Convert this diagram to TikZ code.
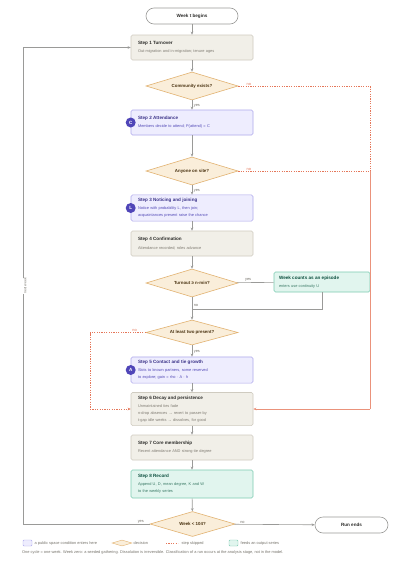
\documentclass[tikz,border=0pt]{standalone}
\usepackage{fontspec}
\setmainfont{Liberation Sans}
\usetikzlibrary{shapes.geometric,arrows.meta}
\definecolor{begfill}{HTML}{F1EFE8}
\definecolor{begdraw}{HTML}{CFCBC0}
\definecolor{begtitle}{HTML}{2C2C2A}
\definecolor{begsub}{HTML}{807C73}
\definecolor{lavfill}{HTML}{EEEDFE}
\definecolor{lavdraw}{HTML}{AFA9EC}
\definecolor{lavtitle}{HTML}{3C3489}
\definecolor{lavsub}{HTML}{534AB7}
\definecolor{badgefill}{HTML}{4F45B8}
\definecolor{grnfill}{HTML}{E1F5EE}
\definecolor{grndraw}{HTML}{7CCBB2}
\definecolor{grntitle}{HTML}{0B4F3E}
\definecolor{grnsub}{HTML}{3B7A66}
\definecolor{decfill}{HTML}{FAEEDA}
\definecolor{decdraw}{HTML}{E2B271}
\definecolor{dectext}{HTML}{4A3311}
\definecolor{linegray}{HTML}{9A9A98}
\definecolor{skipred}{HTML}{E5775A}
\definecolor{labgray}{HTML}{77746C}
\newcommand\mkstep[3]{{\fontsize{4.6}{6}\selectfont\bfseries\color{#1}#2}\\[1.3pt]#3}
\tikzset{
  x=1pt,y=-1pt,
  every node/.style={font=\fontsize{3.9}{7}\selectfont},
  stepbox/.style={rectangle,rounded corners=1.5pt,draw=begdraw,fill=begfill,line width=0.6pt,
    minimum width=122pt,text width=108pt,inner xsep=7pt,align=left,text=begsub},
  lavbox/.style={stepbox,draw=lavdraw,fill=lavfill,text=lavsub},
  grnbox/.style={stepbox,draw=grndraw,fill=grnfill,text=grnsub},
  decbox/.style={diamond,draw=decdraw,fill=decfill,line width=0.6pt,inner sep=0pt,
    text=dectext,font=\fontsize{4.4}{6}\selectfont\bfseries},
  pill/.style={rectangle,rounded corners=8pt,draw=linegray,fill=white,line width=0.6pt,
    minimum width=92pt,minimum height=16pt,font=\fontsize{4.6}{6}\selectfont\bfseries,text=begtitle},
  badge/.style={circle,fill=badgefill,text=white,minimum size=10pt,inner sep=0pt,
    font=\fontsize{4.6}{6}\selectfont\bfseries},
  flow/.style={draw=linegray,line width=0.6pt,-{Stealth[length=3pt,width=2.6pt]}},
  plain/.style={draw=linegray,line width=0.6pt},
  skip/.style={draw=skipred,line width=0.6pt,dash pattern=on 1.2pt off 1.2pt},
  skipsolid/.style={draw=skipred!80,line width=0.6pt},
  lab/.style={text=labgray,inner sep=0.5pt},
  nolab/.style={text=skipred,inner sep=0.5pt},
}
\begin{document}
\begin{tikzpicture}
\useasboundingbox (0,0) rectangle (400,562);
\fill[white] (0,0) rectangle (400,562);

\node[pill] (start) at (192,16) {Week t begins};
\node[stepbox,minimum height=25pt] (s1) at (192,47.5)
  {\mkstep{begtitle}{Step 1 Turnover}{Out-migration and in-migration; tenure ages}};
\node[decbox,aspect=3.29,minimum width=92pt,minimum height=28pt] (d1) at (192,86) {Community exists?};
\node[lavbox,minimum height=25pt] (s2) at (192,122.5)
  {\mkstep{lavtitle}{Step 2 Attendance}{Members decide to attend; P(attend) = C}};
\node[decbox,aspect=3.29,minimum width=92pt,minimum height=28pt] (d2) at (192,171) {Anyone on site?};
\node[lavbox,minimum height=26pt] (s3) at (192,208)
  {\mkstep{lavtitle}{Step 3 Noticing and joining}{Notice with probability L, then join;\\acquaintances present raise the chance}};
\node[stepbox,minimum height=25pt] (s4) at (192,243.5)
  {\mkstep{begtitle}{Step 4 Confirmation}{Attendance recorded; roles advance}};
\node[decbox,aspect=3.29,minimum width=92pt,minimum height=28pt] (d3) at (192,283) {Turnout ≥ n-min?};
\node[grnbox,minimum width=96pt,text width=86pt,inner xsep=5pt,minimum height=20pt] (ep) at (322,282)
  {\mkstep{grntitle}{Week counts as an episode}{enters use continuity U}};
\node[decbox,aspect=3.68,minimum width=92pt,minimum height=25pt] (d4) at (192,332.5) {At least two present?};
\node[lavbox,minimum height=26pt] (s5) at (192,370)
  {\mkstep{lavtitle}{Step 5 Contact and tie growth}{Slots to known partners, some reserved\\to explore; gain = rho · A · h}};
\node[stepbox,minimum height=31pt] (s6) at (192,409)
  {\mkstep{begtitle}{Step 6 Decay and persistence}{Unmaintained ties fade\\n-drop absences → revert to passer-by\\t-gap idle weeks → dissolves, for good}};
\node[stepbox,minimum height=25pt] (s7) at (192,447.5)
  {\mkstep{begtitle}{Step 7 Core membership}{Recent attendance AND strong-tie degree}};
\node[grnbox,minimum height=28pt] (s8) at (192,484)
  {\mkstep{grntitle}{Step 8 Record}{Append U, D, mean degree, K and W\\to the weekly series}};
\node[decbox,aspect=3.4,minimum width=85pt,minimum height=25pt] (d5) at (192.5,524) {Week < 104?};
\node[pill,minimum width=73pt] (fin) at (351.5,525) {Run ends};

\node[badge] (bC) at (s2.west) {C};
\node[badge] (bL) at (s3.west) {L};
\node[badge] (bA) at (s5.west) {A};

% main flow
\draw[flow] (start) -- (s1);
\draw[flow] (s1) -- (d1);
\draw[flow] (d1) -- node[lab,right,pos=0.55,xshift=1pt] {yes} (s2);
\draw[flow] (s2) -- (d2);
\draw[flow] (d2) -- node[lab,right,pos=0.55,xshift=1pt] {yes} (s3);
\draw[flow] (s3) -- (s4);
\draw[flow] (s4) -- (d3);
\draw[flow] (d3) -- node[lab,right,pos=0.35,xshift=1pt] {no} (d4);
\draw[flow] (d4) -- node[lab,right,pos=0.55,xshift=1pt] {yes} (s5);
\draw[flow] (s5) -- (s6);
\draw[flow] (s6) -- (s7);
\draw[flow] (s7) -- (s8);
\draw[flow] (s8) -- (d5);
\draw[flow] (d5) -- node[lab,above,pos=0.1] {no} (fin);

% episode branch
\coordinate (join) at (192,309);
\draw[plain] (d3) -- node[lab,above,pos=0.3] {yes} (ep);
\draw[plain] (ep.south) |- (join);

% next week loop
\coordinate (lpb) at (23,524);
\coordinate (lpt) at (23,47.5);
\draw[plain] (d5.west) -- node[lab,above,pos=0.07] {yes} (lpb) -- (lpt);
\draw[flow] (lpt) -- (s1.west);
\node[lab,rotate=90,fill=white,inner sep=0.6pt,font=\fontsize{3.5}{5}\selectfont] (nw) at (25,286) {next week};

% skipped steps
\coordinate (r1) at (370,86);
\coordinate (r2) at (370,171);
\coordinate (r3) at (370,409);
\draw[skip] (d1.east) -- node[nolab,above,pos=0.08] {no} (r1) -- (r2);
\draw[skip] (d2.east) -- node[nolab,above,pos=0.08] {no} (r2);
\draw[skipsolid] (r2) -- (r3);
\draw[skipsolid,-{Stealth[length=3pt,width=2.6pt]}] (r3) -- (s6.east);
\coordinate (l1) at (90,332.5);
\coordinate (l2) at (90,409);
\draw[skip] (d4.west) -- node[nolab,above,pos=0.2] {no} (l1) -- (l2);
\draw[skip,-{Stealth[length=3pt,width=2.6pt]}] (l2) -- (s6.west);

% legend
\node[rectangle,rounded corners=1pt,draw=lavdraw,fill=lavfill,minimum width=9pt,minimum height=6pt,inner sep=0pt] (lg1) at (27.5,543) {};
\node[lab,anchor=west] (lt1) at (34,543) {a public space condition enters here};
\node[diamond,aspect=3.3,draw=decdraw,fill=decfill,minimum width=20pt,minimum height=6pt,inner sep=0pt] (lg2) at (122,543) {};
\node[lab,anchor=west] (lt2) at (133,543) {decision};
\coordinate (lg3a) at (166,543);
\coordinate (lg3b) at (178,543);
\draw[skip] (lg3a) -- (lg3b);
\node[lab,anchor=west] (lt3) at (181,543) {step skipped};
\node[rectangle,rounded corners=1pt,draw=grndraw,fill=grnfill,minimum width=9pt,minimum height=6pt,inner sep=0pt] (lg4) at (233.5,543) {};
\node[lab,anchor=west] (lt4) at (240,543) {feeds an output series};
\node[lab,anchor=west] (fn) at (21.5,552) {One cycle = one week. Week zero: a seeded gathering. Dissolution is irreversible. Classification of a run occurs at the analysis stage, not in the model.};
\end{tikzpicture}
\end{document}
